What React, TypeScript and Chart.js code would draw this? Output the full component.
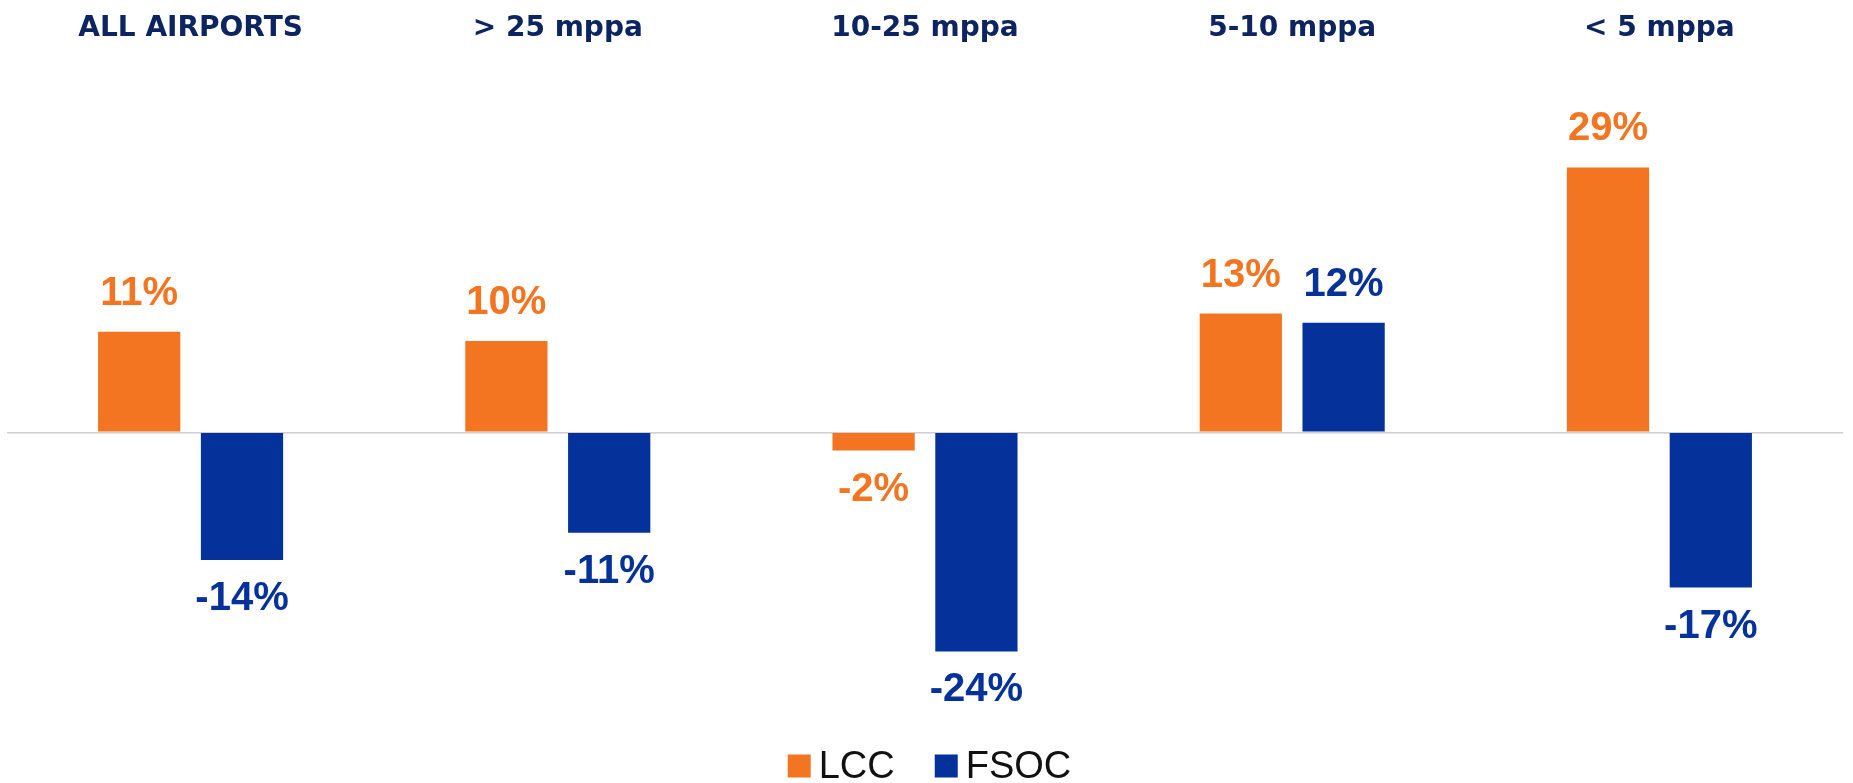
import React, { useEffect, useRef } from "react";
import { Chart, registerables } from "chart.js";

Chart.register(...registerables);

const categories = ["ALL AIRPORTS", "> 25 mppa", "10-25 mppa", "5-10 mppa", "< 5 mppa"];
const lccValues = [11, 10, -2, 13, 29];
const fsocValues = [-14, -11, -24, 12, -17];
const seriesNames = ["LCC", "FSOC"];

const ORANGE = "#F37521";
const BLUE = "#05329A";
const NAVY = "#0C2460";

const valueLabelPlugin = {
  id: "valueLabels",
  afterDatasetsDraw(chart: any) {
    const ctx = chart.ctx;
    ctx.save();
    ctx.font = "bold 40px 'Liberation Sans', Arial, sans-serif";
    ctx.textAlign = "center";
    ctx.textBaseline = "middle";
    chart.data.datasets.forEach((ds: any, di: number) => {
      const meta = chart.getDatasetMeta(di);
      ctx.fillStyle = ds.backgroundColor;
      meta.data.forEach((bar: any, i: number) => {
        const v = ds.data[i];
        const y = v >= 0 ? bar.y - 38 : bar.y + 39;
        ctx.fillText(`${v}%`, bar.x, y);
      });
    });
    ctx.restore();
  },
};

const legendPlugin = {
  id: "customLegend",
  afterDraw(chart: any) {
    const ctx = chart.ctx;
    ctx.save();
    ctx.font = "38px 'Liberation Sans', Arial, sans-serif";
    ctx.textBaseline = "middle";
    ctx.textAlign = "left";
    const box = 23;
    const gap = 8;
    const itemGap = 40;
    const items = chart.data.datasets.map((ds: any) => ({
      text: ds.label,
      color: ds.backgroundColor,
      w: ctx.measureText(ds.label).width,
    }));
    const total = items.reduce((s: number, it: any) => s + box + gap + it.w, 0) + itemGap * (items.length - 1);
    let x = chart.width / 2 - total / 2 + 3;
    const cy = 766;
    items.forEach((it: any) => {
      ctx.fillStyle = it.color;
      ctx.fillRect(x, cy - box / 2, box, box);
      x += box + gap;
      ctx.fillStyle = "#111111";
      ctx.fillText(it.text, x, cy + 2);
      x += it.w + itemGap;
    });
    ctx.restore();
  },
};

export default function App() {
  const ref = useRef<HTMLCanvasElement | null>(null);

  useEffect(() => {
    if (!ref.current) return;
    const chart = new Chart(ref.current, {
      type: "bar",
      data: {
        labels: categories,
        datasets: [
          { label: seriesNames[0], data: lccValues, backgroundColor: ORANGE, borderWidth: 0 },
          { label: seriesNames[1], data: fsocValues, backgroundColor: BLUE, borderWidth: 0 },
        ],
      },
      options: {
        animation: false,
        responsive: true,
        maintainAspectRatio: false,
        layout: { padding: { top: 3, left: 7, right: 10, bottom: 60 } },
        datasets: { bar: { categoryPercentage: 0.56, barPercentage: 0.8 } },
        plugins: {
          legend: { display: false },
          tooltip: { enabled: false },
        },
        scales: {
          x: {
            position: "top",
            grid: { display: false, drawTicks: false },
            border: { display: false },
            ticks: {
              color: NAVY,
              padding: 9,
              font: { family: "'DejaVu Sans', sans-serif", size: 28, weight: "bold" },
            },
          },
          y: {
            min: -31.84,
            max: 41.36,
            grid: {
              drawTicks: false,
              lineWidth: 1.5,
              color: (c: any) => (c.tick && c.tick.value === 0 ? "#CFCFCF" : "rgba(0,0,0,0)"),
            },
            border: { display: false },
            ticks: { display: false, stepSize: 10 },
          },
        },
      },
      plugins: [valueLabelPlugin, legendPlugin],
    });
    return () => chart.destroy();
  }, []);

  return (
    <div style={{ position: "absolute", left: 0, top: 0, width: 1853, height: 783, background: "#fff" }}>
      <canvas ref={ref} />
    </div>
  );
}
